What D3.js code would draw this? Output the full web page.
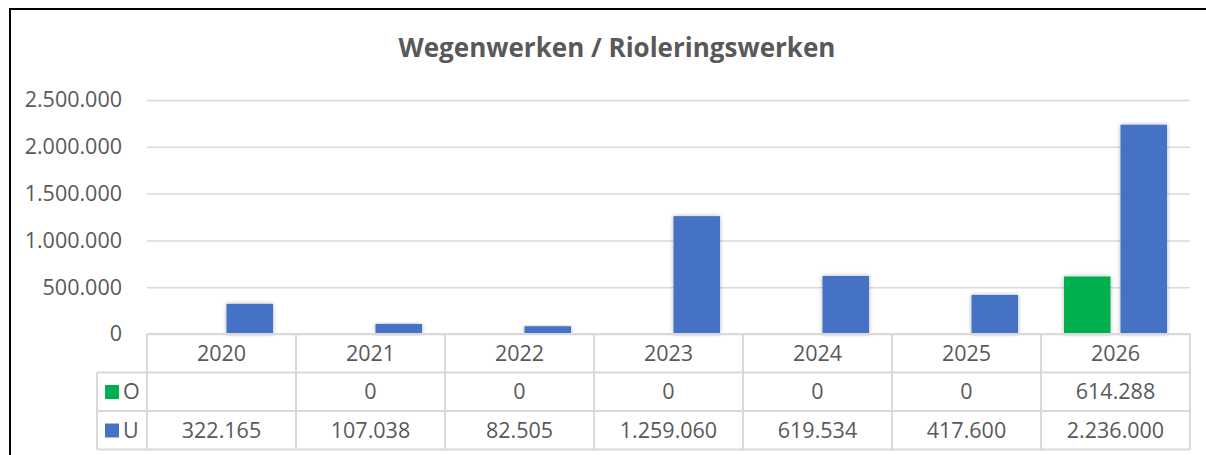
<!DOCTYPE html>
<html>
<head>
<meta charset="utf-8">
<script src="https://cdn.jsdelivr.net/npm/d3@7"></script>
<style>
  body { margin: 0; background: #fff; }
  text { font-family: "Open Sans", sans-serif; fill: #595959; }
</style>
</head>
<body>
<div id="chart"></div>
<script>
// data
var years = ["2020", "2021", "2022", "2023", "2024", "2025", "2026"];
var series = ["O", "U"];
var valuesO = [null, 0, 0, 0, 0, 0, 614288];
var valuesU = [322165, 107038, 82505, 1259060, 619534, 417600, 2236000];
var yTicks = [0, 500000, 1000000, 1500000, 2000000, 2500000];
var colors = { O: "#00b050", U: "#4472c4" };

var svgWidth = 1206, svgHeight = 455;
var margin = { top: 100, right: 16, bottom: 121, left: 147 };
var width = svgWidth - margin.left - margin.right;
var height = svgHeight - margin.top - margin.bottom;
var rowH = 38.5;
var legendW = 50;
var fontSize = "21.5px";

var loc = d3.formatLocale({ decimal: ",", thousands: ".", grouping: [3], currency: ["€", ""] });
var fmt = loc.format(",d");

var svg = d3.select("#chart").append("svg")
  .attr("width", svgWidth)
  .attr("height", svgHeight);

// soft shadow under the bars
var defs = svg.append("defs");
defs.append("filter").attr("id", "shadow")
  .attr("x", "-20%").attr("y", "-10%").attr("width", "140%").attr("height", "120%")
  .append("feDropShadow")
  .attr("dx", 0).attr("dy", 0).attr("stdDeviation", 2)
  .attr("flood-color", "#000").attr("flood-opacity", 0.3);

// frame
svg.append("line").attr("x1", 10).attr("x2", 10).attr("y1", 8).attr("y2", svgHeight)
  .attr("stroke", "#000").attr("stroke-width", 2);
svg.append("line").attr("x1", 9).attr("x2", svgWidth).attr("y1", 9).attr("y2", 9)
  .attr("stroke", "#000").attr("stroke-width", 2);

svg.append("text")
  .attr("x", 617).attr("y", 57)
  .attr("text-anchor", "middle")
  .style("font-size", "26px").style("font-weight", "bold")
  .text("Wegenwerken / Rioleringswerken");

var chartGroup = svg.append("g")
  .attr("transform", `translate(${margin.left}, ${margin.top})`);

var x0 = d3.scaleBand().domain(years).range([0, width]).paddingInner(0).paddingOuter(0);
var x1 = d3.scaleBand().domain(series).range([0, x0.bandwidth()])
  .paddingInner(0.177).paddingOuter(0.407);
var y = d3.scaleLinear().domain([0, 2500000]).range([height, 0]);

// gridlines + y labels
var leftAxis = d3.axisLeft(y).tickValues(yTicks).tickFormat(fmt)
  .tickSizeInner(-width).tickSizeOuter(0).tickPadding(25);
var yAxis = chartGroup.append("g").call(leftAxis);
yAxis.select(".domain").remove();
yAxis.selectAll("line").attr("stroke", "#d9d9d9").attr("stroke-width", 1.5);
yAxis.selectAll("text").style("font-size", fontSize).attr("fill", "#595959");

// bars
var rows = years.map(function (yr, i) { return { year: yr, O: valuesO[i], U: valuesU[i] }; });
chartGroup.append("g").selectAll("g")
  .data(rows)
  .enter().append("g")
  .attr("transform", d => `translate(${x0(d.year)},0)`)
  .selectAll("rect")
  .data(d => series.map(s => ({ key: s, value: d[s] })).filter(v => v.value))
  .enter().append("rect")
  .attr("x", d => x1(d.key))
  .attr("width", x1.bandwidth())
  .attr("y", d => y(d.value))
  .attr("height", d => height - y(d.value))
  .attr("fill", d => colors[d.key])
  .attr("filter", "url(#shadow)");

// data table
var table = chartGroup.append("g").attr("transform", `translate(0, ${height})`);
var bottomAxis = d3.axisBottom(x0).tickSize(0).tickPadding(12);
var xAxis = table.append("g").call(bottomAxis);
xAxis.select(".domain").remove();
xAxis.selectAll("text").style("font-size", fontSize).attr("fill", "#595959");

var gridColor = "#d9d9d9";
table.append("line").attr("x1", 0).attr("x2", width).attr("y1", 0).attr("y2", 0)
  .attr("stroke", gridColor).attr("stroke-width", 2);
[1, 2, 3].forEach(function (r) {
  table.append("line").attr("x1", -legendW).attr("x2", width)
    .attr("y1", r * rowH).attr("y2", r * rowH)
    .attr("stroke", gridColor).attr("stroke-width", 2);
});
table.selectAll(".vline")
  .data(years.map(d => x0(d)).concat([width]))
  .enter().append("line")
  .attr("x1", d => d).attr("x2", d => d)
  .attr("y1", 0).attr("y2", 3 * rowH)
  .attr("stroke", gridColor).attr("stroke-width", 2);
table.append("line").attr("x1", -legendW).attr("x2", -legendW)
  .attr("y1", rowH).attr("y2", 3 * rowH)
  .attr("stroke", gridColor).attr("stroke-width", 2);

var seriesValues = { O: valuesO, U: valuesU };
series.forEach(function (s, r) {
  var rowY = (r + 1) * rowH;
  table.append("rect")
    .attr("x", -legendW + 8).attr("y", rowY + 12.5)
    .attr("width", 14).attr("height", 14)
    .attr("fill", colors[s]);
  table.append("text")
    .attr("x", -legendW + 26).attr("y", rowY + rowH / 2)
    .attr("dy", "0.36em")
    .style("font-size", fontSize)
    .text(s);
  table.selectAll(".val" + s)
    .data(seriesValues[s])
    .enter().append("text")
    .attr("x", (d, i) => x0(years[i]) + x0.bandwidth() / 2)
    .attr("y", rowY + rowH / 2)
    .attr("dy", "0.36em")
    .attr("text-anchor", "middle")
    .style("font-size", fontSize)
    .text(d => d == null ? "" : fmt(d));
});
</script>
</body>
</html>
